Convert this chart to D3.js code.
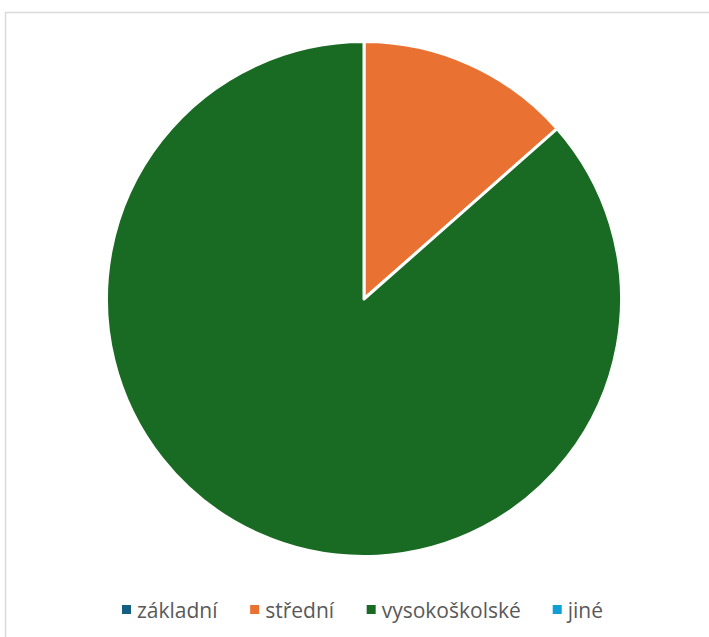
<!DOCTYPE html>
<html><head><meta charset="utf-8">
<script src="https://cdn.jsdelivr.net/npm/d3@7"></script>
<style>body{margin:0;background:#fff}svg{display:block}</style>
</head><body>
<script>
const categories = ["základní", "střední", "vysokoškolské", "jiné"];
const values = [0, 13.5, 86.5, 0];
const colors = ["#156082", "#E97132", "#196B24", "#0F9ED5"];

const W = 709, H = 637;
const svg = d3.select("body").append("svg").attr("width", W).attr("height", H);

// chart frame
svg.append("path").attr("d", `M5.5,${H} V12.5 H${W}`)
  .attr("fill", "none").attr("stroke", "#d9d9d9").attr("stroke-width", 1.5);

const cx = 364, cy = 299, r = 257.5;
const pie = d3.pie().sort(null).value(d => d)(values);
const arc = d3.arc().innerRadius(0).outerRadius(r);
const g = svg.append("g").attr("transform", `translate(${cx},${cy})`);
g.selectAll("path").data(pie.filter(d => d.value > 0)).join("path")
  .attr("d", arc)
  .attr("fill", d => colors[d.index])
  .attr("stroke", "#fff").attr("stroke-width", 3).attr("stroke-linejoin", "round");

// legend
const fontSize = 21;
const leg = svg.append("g").attr("font-family", "'Open Sans', 'Noto Sans', sans-serif")
  .attr("font-size", fontSize).attr("fill", "#595959");
const items = leg.selectAll("g").data(categories).join("g");
items.append("rect").attr("width", 9).attr("height", 9).attr("fill", (d, i) => colors[i]);
items.append("text").text(d => d).attr("x", 15).attr("y", 13);
let widths = [];
items.each(function(){ widths.push(this.getBBox().width); });
const x0 = 122, x1 = 603;
const gap = (x1 - x0 - d3.sum(widths)) / (widths.length - 1);
let x = x0;
items.each(function(d, i){
  d3.select(this).attr("transform", `translate(${x},${605})`);
  x += widths[i] + gap;
});
</script>
</body></html>
